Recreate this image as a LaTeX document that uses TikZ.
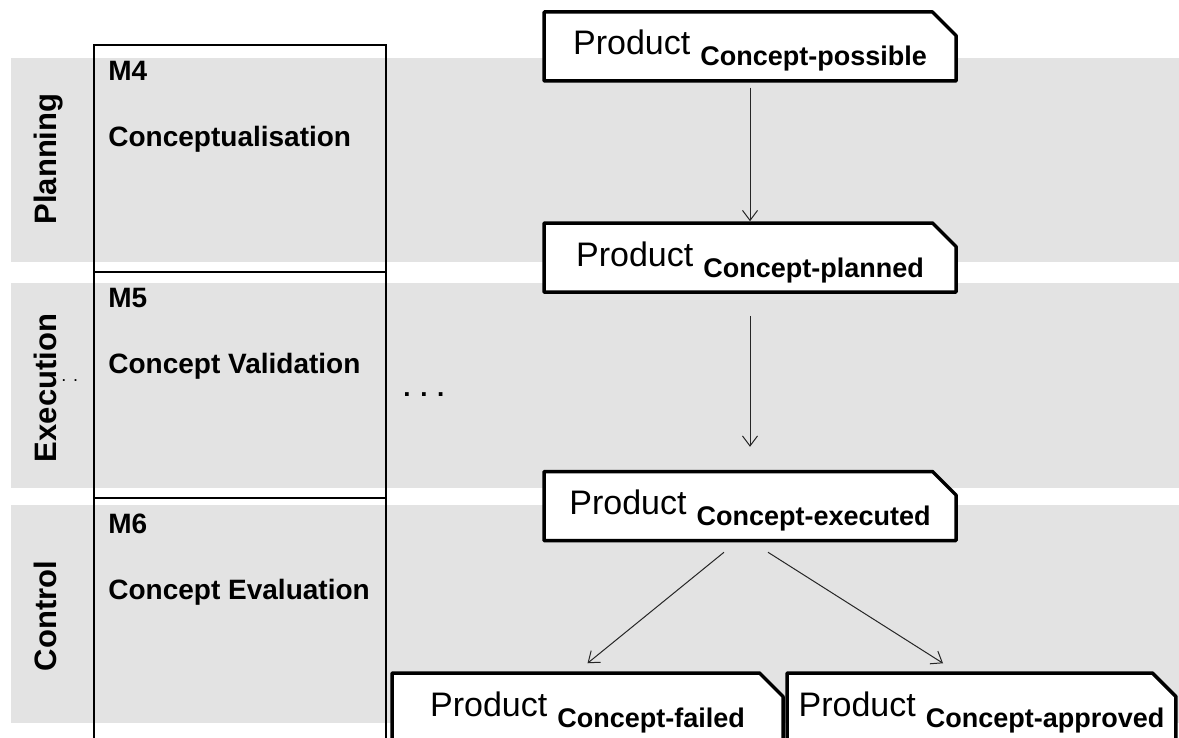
\documentclass[tikz,border=0pt]{standalone}
\usepackage{fontspec}
\setmainfont{Liberation Sans}
\usetikzlibrary{arrows.meta,shapes.misc}
\definecolor{lanegray}{RGB}{227,227,227}
\newcommand{\prodtext}[1]{{\fontsize{17}{20}\selectfont Product}\hspace{5pt}\raisebox{-5.5pt}{\fontsize{13.5}{16}\selectfont\bfseries Concept-#1}}
\begin{document}
\begin{tikzpicture}[
        x=0.5pt, y=-0.5pt,
        lane/.style={fill=lanegray},
        lanelabel/.style={rotate=90, anchor=base, inner sep=0pt, font=\fontsize{15.5}{18}\selectfont\bfseries},
        phase/.style={draw, line width=0.6pt},
        phaselabel/.style={anchor=base west, inner sep=0pt, font=\fontsize{14}{17}\selectfont\bfseries},
        product/.style={draw, fill=white, line width=1.75pt, line join=round, chamfered rectangle, chamfered rectangle corners=north east, chamfered rectangle sep=6pt, minimum width=206pt, minimum height=34.5pt, inner sep=0pt, text height=10pt, text depth=1.5pt},
        flow/.style={-{Straight Barb[length=5pt,width=7.5pt]}, line width=0.5pt, draw=black!85}
    ]
    \clip (0,0) rectangle (1179,738);

    % lanes
    \foreach \top/\bot in {58/262, 283/488, 505/723}
        \fill[lane] (11,\top) rectangle (1179,\bot);
    \node[lanelabel] (planning) at (56,159) {Planning};
    \node[lanelabel] (execution) at (56,388) {Execution};
    \node[lanelabel] (control) at (56,616) {Control};
    \node[anchor=base west, inner sep=0pt, font=\fontsize{9}{10}\selectfont] (gap) at (61,381) {. .};

    % phases
    \draw[phase] (94,45) rectangle (386,272);
    \draw[phase] (94,272) rectangle (386,498);
    \draw[phase] (94,498) rectangle (386,760);
    \foreach \y/\m/\name in {81/M4/Conceptualisation, 307/M5/Concept Validation, 533/M6/Concept Evaluation} {
        \node[phaselabel] (\m) at (108,\y) {\m};
        \node[phaselabel] (\m-name) at (108,\y+66) {\name};
    }
    \node[anchor=base west, inner sep=0pt, font=\fontsize{13}{15}\selectfont\bfseries] (more) at (403,396) {. . .};

    % product states
    \node[product] (possible) at (750,46.5) {\prodtext{possible}};
    \node[product, below of=possible, yshift=-77.05pt] (planned) {\prodtext{planned}};
    \node[product, below of=planned, yshift=-95.8pt] (executed) {\prodtext{executed}};
    \node[product, minimum width=195.5pt, below of=executed, xshift=-81.25pt, yshift=-72.3pt] (failed) {\prodtext{failed}};
    \node[product, minimum width=193.5pt, right of=failed, xshift=168.55pt] (approved) {\prodtext{approved}};

    \draw[flow] ([yshift=-2.5pt]possible.south) -- (planned.north);
    \draw[flow] ([yshift=-11pt]planned.south) -- ([yshift=11.5pt]executed.north);
    \draw[flow] ([xshift=-13pt,yshift=-5pt]executed.south) -- ([yshift=4pt]failed.north);
    \draw[flow] ([xshift=9pt,yshift=-5pt]executed.south) -- ([xshift=-19.25pt,yshift=4pt]approved.north);
\end{tikzpicture}
\end{document}
